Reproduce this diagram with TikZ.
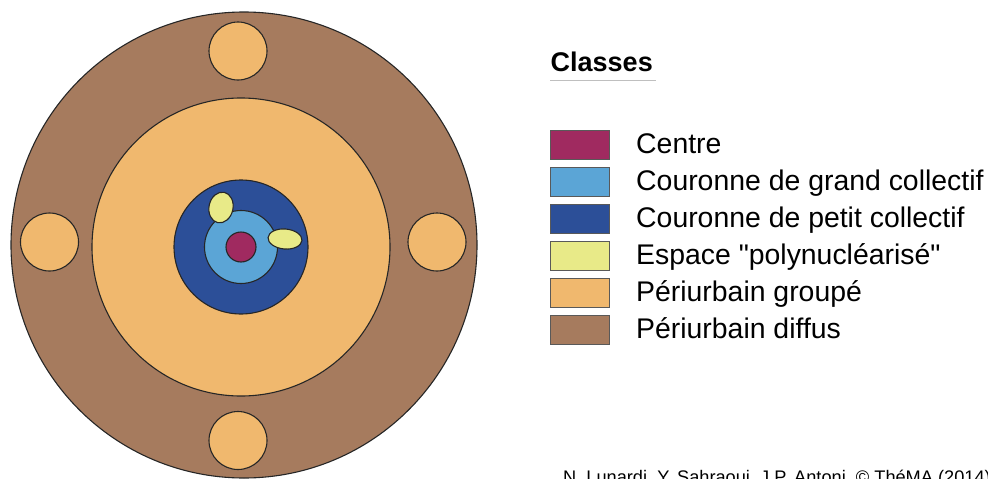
\documentclass[tikz,border=0pt]{standalone}
\usepackage{fontspec}
\setmainfont{Liberation Sans}[Ligatures=TeXOff]
\usepackage{tikz}
\usetikzlibrary{positioning}

\definecolor{Centre}{HTML}{A02A60}
\definecolor{GrandColl}{HTML}{5BA5D6}
\definecolor{PetitColl}{HTML}{2C4F98}
\definecolor{Polynuc}{HTML}{E8EA88}
\definecolor{PeriGroupe}{HTML}{F0B86E}
\definecolor{PeriDiffus}{HTML}{A67B5E}

\begin{document}
\begin{tikzpicture}[x=1pt, y=-1pt,
    zone/.style={draw=black!85, line width=1.1pt},
    swatch/.style={draw=black!65, line width=0.8pt, minimum width=59pt,
                   minimum height=29pt, inner sep=0pt},
    lbl/.style={font=\fontsize{28.4}{32}\selectfont, anchor=base west, inner sep=0pt}]
  \useasboundingbox (0,0) rectangle (988,479);
  \clip (0,0) rectangle (988,479);
  % rings
  \draw[zone, fill=PeriDiffus] (244,245) circle[radius=233pt];
  \foreach \cx/\cy in {238/51, 238/440.5, 49.5/242, 437/242}
    \draw[zone, fill=PeriGroupe] (\cx,\cy) circle[radius=29pt];
  \coordinate (o) at (241,247);
  \draw[zone, fill=PeriGroupe] (o) circle[radius=149pt];
  \draw[zone, fill=PetitColl] (o) circle[radius=67pt];
  \draw[zone, fill=GrandColl] (o) circle[radius=36.5pt];
  \draw[zone, fill=Polynuc] (221,207.5) circle[x radius=12pt, y radius=15.5pt, rotate=-12];
  \draw[zone, fill=Polynuc] (285,239) circle[x radius=17pt, y radius=10pt, rotate=-5];
  \draw[zone, fill=Centre] (o) circle[radius=15pt];
  % legend
  \node[font=\fontsize{27}{30}\selectfont\bfseries, anchor=base west, inner sep=0pt]
    (title) at (550.5,71.7) {Classes};
  \draw[black!25, line width=0.8pt] (550,80) -- (656,80);
  \foreach \col/\txt [count=\i from 0] in {Centre/Centre,
      GrandColl/Couronne de grand collectif,
      PetitColl/Couronne de petit collectif,
      Polynuc/Espace "polynucléarisé",
      PeriGroupe/Périurbain groupé,
      PeriDiffus/Périurbain diffus}{
    \node[swatch, fill=\col] (sw\i) at (579.5, 144.5+37*\i) {};
    \node[lbl] (lb\i) at (636, 153.5+37*\i) {\txt};
  }
  \node[font=\fontsize{18.2}{20}\selectfont, anchor=base west, inner sep=0pt]
    (credit) at (563,483) {N. Lunardi, Y. Sahraoui, J.P. Antoni, © ThéMA (2014)};
\end{tikzpicture}
\end{document}
